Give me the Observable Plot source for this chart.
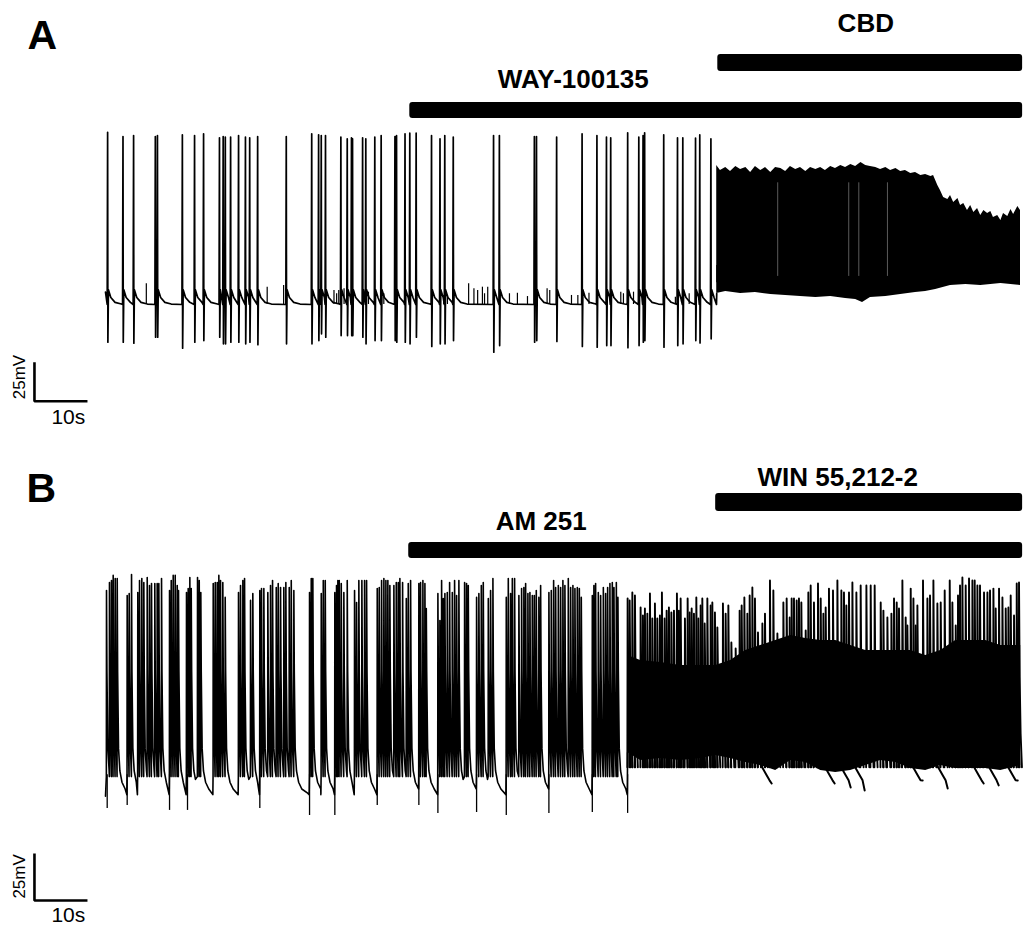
<!DOCTYPE html>
<html><head><meta charset="utf-8">
<script src="https://cdn.jsdelivr.net/npm/d3@7"></script>
<script src="https://cdn.jsdelivr.net/npm/@observablehq/plot@0.6"></script>
<style>
html,body{margin:0;padding:0;background:#fff;}
#chart svg{display:block;}
</style></head>
<body><div id="chart"></div>
<script>
// ---------------- DATA ----------------
const recordEnd = 173.0;              // s, end of both recordings
const scaleBar_s = 10, scaleBar_mV = 25;

// Panel A — drug applications
const drugA_name = ["WAY-100135", "CBD"];
const drugA_start = [57.4, 115.5];
// Panel A — isolated action potentials (time s, peak mV, undershoot mV)
const spikeA_t = [0.4,3.3,5.3,9.4,9.8,14.5,16.8,18.5,21.5,22.2,22.6,23.6,25.1,26.4,27.2,28.7,34.1,38.9,40.2,40.7,41.5,44.4,45.6,46.4,46.6,48.5,49.1,50.8,52.0,54.6,54.9,56.5,57.4,58.6,61.5,63.1,64.0,65.6,73.2,74.3,80.9,81.3,85.1,89.9,92.7,94.5,95.3,98.5,100.6,101.4,101.7,105.3,107.9,108.9,111.3,112.1,114.2];
const spikeA_peak = [50.4,47.7,48.3,47.7,48.3,48.8,48.3,49.4,46.9,47.7,47.3,47.3,48.3,47.3,46.9,47.7,47.7,49.4,48.8,48.3,48.3,47.3,46.2,46.9,46.2,46.9,46.2,47.3,48.3,47.7,48.3,49.4,49.8,49.8,48.3,46.2,48.3,47.3,48.3,48.3,47.7,47.7,47.3,49.4,48.3,47.3,46.9,50.1,47.3,48.3,50.1,48.8,46.9,46.9,46.7,48.8,46.2];
const spikeA_trough = [-84.2,-84.2,-84.8,-81.0,-81.0,-88.0,-84.2,-83.1,-81.0,-85.2,-85.2,-84.2,-84.2,-85.2,-84.2,-85.8,-85.2,-85.2,-83.1,-78.8,-81.0,-79.9,-79.9,-79.9,-79.9,-81.0,-85.2,-83.1,-83.1,-83.1,-84.2,-84.2,-85.2,-81.0,-86.9,-85.2,-85.2,-83.1,-90.6,-86.3,-84.2,-83.1,-83.7,-86.9,-87.4,-86.3,-86.3,-87.7,-86.3,-84.2,-83.1,-87.4,-86.3,-85.2,-83.1,-84.6,-82.0];
// Panel A — small synaptic events on the baseline
const epspA_t = [7.7,30.5,33.6,43.1,43.6,44.0,45.0,49.6,52.5,63.8,64.5,68.5,69.5,70.2,71.1,71.5,72.1,76.2,77.7,79.6,83.3,83.8,87.9,89.1,91.2,97.2,97.7,99.6,107.5,110.1];
const epspA_v = [-46.7,-48.9,-47.8,-51.0,-53.1,-51.0,-49.9,-52.1,-53.1,-54.2,-54.2,-46.7,-49.9,-51.0,-48.9,-53.1,-48.9,-53.1,-52.8,-54.9,-49.9,-51.0,-54.2,-54.2,-52.8,-52.1,-53.1,-52.1,-55.3,-53.1];
// Panel A — high-frequency firing after CBD: envelope of the trace
const denseA_t = [115.3,116.0,117.0,117.9,118.9,119.8,120.8,121.7,122.6,123.6,124.5,125.5,126.4,127.4,128.3,129.2,130.2,131.1,132.1,133.0,134.0,134.9,135.8,136.8,137.7,138.7,139.6,140.6,141.5,142.5,143.4,144.3,145.3,146.2,147.2,148.1,149.1,150.0,150.9,151.9,152.8,153.8,154.7,155.7,156.2,157.0,157.5,158.1,158.9,159.4,160.0,160.8,161.3,161.9,162.6,163.2,163.8,164.5,165.1,165.7,166.4,167.0,167.5,168.3,168.9,169.4,170.2,170.8,171.3,172.1,172.6];
const denseA_top = [29.1,25.9,27.8,25.3,28.5,26.5,27.8,24.6,28.5,25.9,27.8,24.6,27.8,27.2,25.3,28.5,26.5,27.8,25.3,27.8,26.5,27.8,25.9,28.5,27.2,29.1,27.8,29.7,28.5,31.0,29.1,28.5,27.8,26.5,27.8,25.9,27.2,25.3,25.9,24.0,24.6,22.7,23.3,22.1,22.7,16.3,13.1,8.6,7.3,9.9,5.4,7.9,3.5,4.7,0.3,3.5,-1.0,1.5,-3.0,0.3,-1.7,-0.4,-4.2,-3.0,-6.2,-1.7,-3.6,0.9,-2.3,2.8,0.3];
const denseA_lowT = [115.3,117.0,119.8,122.6,125.5,128.3,131.1,134.0,136.8,139.6,141.5,142.8,144.3,147.2,150.0,152.8,154.7,156.6,159.4,162.3,165.1,168.9,170.8,172.6];
const denseA_low = [-53.0,-51.7,-53.0,-52.3,-53.6,-54.2,-54.9,-55.5,-54.9,-56.2,-56.8,-58.7,-55.5,-54.9,-53.6,-52.3,-51.7,-50.4,-47.8,-47.2,-47.8,-46.5,-47.2,-47.8];
const denseA_gapT = [126.8,140.2,142.1,147.5];

// Panel B — drug applications
const drugB_name = ["AM 251", "WIN 55,212-2"];
const drugB_start = [57.2, 115.1];
// Panel B — spikes in the burst-firing period (time s, peak mV)
const spikeB_t = [0.19,0.75,1.13,1.45,1.83,2.21, 4.09,4.47,4.91, 6.09,6.42,6.85,7.23,7.87,8.30,8.68,9.30,9.75,10.06,10.57, 12.08,12.40,12.77,13.15,13.53,13.77, 15.28,15.60,15.91,16.17,17.36,17.68,17.98, 20.32,20.70,21.08,21.38,21.70,22.13,22.58, 25.09,25.47,25.91,26.23,27.36,27.79, 29.11,29.43,29.87,30.62,31.13,31.51,32.21,32.58,33.02,33.64,34.02,34.66,35.04,35.53, 38.49,38.81,39.11, 40.70,41.08,41.45, 43.26,43.58,43.83,44.09,44.47,44.96,45.60, 46.98,47.36,47.79,48.36,48.87,49.25, 51.26,51.64,52.08,52.51,52.89,53.26,53.64,54.40,54.85,55.23,55.53,56.04,56.74,57.11,57.55,59.11,59.43,59.87,60.25,60.51, 62.70,63.08,63.40,63.72,64.02,64.47,64.91,65.42,65.85,66.23,66.66,67.74,68.11,68.43, 70.00,70.43,70.89,71.26,72.21,72.64,73.08, 75.60,75.98,76.42,76.74,77.17,77.98,78.49,78.92,79.25,79.68,80.06,80.51,80.89,81.26,81.75,82.08, 83.64,84.09,84.53,84.91,85.42,85.85,86.28,86.66,87.30,87.74,88.17,88.55,89.00,89.38,89.75, 91.83,92.13,92.45,92.96,93.40,93.91,94.34,94.72,95.15,95.60,95.91,96.36,96.66];
const spikeB_peak = [48.0,52.2,53.3,56.0,54.4,54.4, 45.3,46.4,56.5, 46.9,53.3,54.4,52.2,54.9,50.6,51.7,51.7,51.7,51.7,54.4, 48.0,53.3,56.0,56.0,50.6,48.0, 46.9,49.0,54.9,49.0,54.9,53.3,46.9, 51.7,52.2,52.2,56.0,53.3,52.2,44.3, 46.9,50.6,53.3,54.4,42.7,46.4, 48.0,49.0,49.0,46.9,50.6,53.3,49.6,51.7,49.6,49.6,52.2,49.6,53.3,48.0, 46.9,54.4,54.4, 46.4,53.3,53.3, 46.9,50.6,53.3,53.3,51.7,46.9,53.3, 48.0,41.6,53.3,53.3,53.3,53.3, 49.0,49.6,53.3,54.4,53.3,53.3,50.6,50.6,52.2,52.2,54.4,52.2,43.7,51.7,53.3,51.7,52.2,53.3,51.7,38.4, 46.4,32.0,53.3,43.7,46.4,46.9,52.2,46.9,53.3,45.3,53.3,52.2,51.7,50.6, 44.3,46.4,50.6,52.2,43.7,48.0,54.4, 44.3,54.4,46.4,54.4,54.4,45.3,49.0,49.6,51.7,46.4,46.9,45.3,45.3,48.0,44.3,50.6, 46.9,48.0,53.3,49.6,50.6,49.6,53.3,50.6,54.4,49.6,50.6,49.0,49.6,49.0,44.3, 45.3,50.6,51.7,46.9,45.3,49.6,46.4,49.6,51.7,52.2,49.6,52.2,44.3];
// Panel B — silent intervals between bursts (start, end, s)
const gapB_start = [2.25,4.95,10.6,13.8,18.0,22.62,27.85,35.6,39.15,41.5,45.65,49.3,57.6,60.55,68.5,73.15,82.15,89.8,96.7];
const gapB_end   = [4.09,6.09,12.08,15.28,20.32,25.09,29.11,38.49,40.70,43.26,46.98,51.26,59.11,62.70,70.00,75.60,83.64,91.83,98.49];
// Panel B — first spikes of bursts that undershoot the baseline
const underB_t = [0.32,4.09,12.08,15.47,29.11,38.49,43.26,51.26,59.11,62.70,70.00,75.60,83.64,91.83,98.49];
const underB_v = [-68.0,-66.4,-69.0,-69.0,-68.0,-71.7,-71.7,-66.4,-66.4,-70.6,-70.1,-71.7,-70.6,-70.1,-70.6];
// Panel B — sustained firing from ~98 s: envelope of the dense band
const denseB_t = [98.49,100.94,104.72,108.49,112.26,115.09,117.92,120.75,123.58,126.42,129.25,132.08,134.91,137.74,140.57,143.40,146.23,149.06,151.89,154.72,157.55,160.38,163.21,166.04,168.87,172.64];
const denseB_top = [13.4,10.7,9.7,8.1,8.1,8.1,10.7,16.1,18.7,21.4,24.0,22.4,21.4,21.4,18.7,16.1,16.1,16.1,16.1,13.4,16.1,21.4,21.4,21.4,18.7,18.7];
const denseB_bottom = [-38.2,-42.4,-41.4,-42.4,-41.4,-39.8,-41.4,-43.5,-45.1,-47.8,-42.4,-43.5,-47.8,-48.8,-47.8,-45.1,-42.4,-43.5,-46.7,-47.8,-45.1,-46.7,-46.7,-46.7,-47.8,-45.1];
// Panel B — spike peaks rising above the dense band
const denseSpikeB_t = [98.49,98.87,99.38,99.87,100.94,101.38,101.75,102.21,102.70,103.15,103.64,104.09,104.58,104.96,105.47,105.85,106.28,106.74,107.23,107.79,108.17,108.49,109.30,109.81,110.19,110.57,111.00,111.45,111.83,112.26,112.58,113.02,113.53,114.15,114.47,114.96,115.42,116.47,116.98,117.49,118.06,118.87,119.62,120.00,120.51,121.08,121.51,122.02,122.51,123.08,123.91,124.40,125.34,125.98,126.74,127.87,128.49,129.06,129.43,129.87,130.38,130.81,131.26,132.08,132.58,133.02,133.64,134.40,134.91,135.42,135.85,136.47,137.23,138.06,138.81,139.30,139.75,140.25,140.89,141.64,142.45,143.53,144.34,145.09,146.23,146.74,147.49,148.25,148.74,149.25,149.68,150.32,150.94,151.26,151.89,152.40,152.83,153.15,154.21,155.04,155.53,156.17,156.92,157.55,158.30,159.25,159.75,160.38,160.81,161.19,161.64,162.26,162.89,163.53,163.96,164.47,164.96,165.72,166.36,166.85,167.49,167.92,168.55,169.19,169.81,170.32,170.75,171.38,171.89,172.32];
const denseSpikeB_peak = [43.7,42.7,46.9,45.3,38.9,34.7,38.4,35.7,46.4,33.1,41.1,33.1,34.7,46.9,33.1,37.3,38.9,36.3,37.3,46.4,37.3,43.7,33.1,43.7,36.3,38.4,35.7,44.3,33.1,40.0,43.7,30.4,43.7,40.0,41.6,36.3,28.3,41.1,35.7,40.0,20.3,17.1,37.3,40.0,44.3,35.7,45.3,49.6,43.7,25.6,30.4,35.7,53.3,48.0,25.1,41.6,43.7,33.6,43.7,43.7,42.7,43.7,41.6,26.7,46.9,50.6,41.6,51.7,43.7,35.7,38.9,49.0,48.0,53.3,48.0,46.9,40.0,46.9,52.2,46.9,50.6,50.6,50.6,50.6,41.6,37.3,33.6,35.7,43.7,41.6,38.4,53.3,33.6,29.4,49.0,43.7,29.4,40.0,53.3,43.7,45.3,53.3,41.1,41.6,48.0,53.3,41.6,29.4,45.3,50.6,54.9,50.6,54.4,53.3,53.3,50.6,50.6,46.9,46.9,48.0,49.0,38.4,49.0,44.3,38.4,38.9,45.3,34.7,51.7,52.2];
// Panel B — after-hyperpolarisation dips inside the dense period
const dipB_t = [125.66,137.55,140.57,143.21,154.15,158.87,165.66,168.49,172.08];
const dipB_v = [-54.7,-54.7,-56.8,-58.4,-53.1,-57.3,-54.7,-55.7,-53.1];

// ---------------- LAYOUT (annotation placement, not data) ----------------
const FONT = "'Liberation Sans', Arial, Helvetica, sans-serif";
const W = 1024, H = 463;
const xCfg = {domain: [0, 172.6], range: [105, 1020], axis: null};
const layoutA = {
  yRange: [304, 304 - 110 * 1.56],
  letter: {x: -14.7, y: 104.0},
  labels: [{x: 74.0, y: 78.5}, {x: 138.1, y: 114.4}],
  bars: [{y1: 59.2, y2: 69.5}, {y1: 89.4, y2: 100.3}],
  sb: {t: -13.4, v: -122.0, t10: -10.2, v10: -136.3, tmv: -15.1, vmv: -106.5}
};
const layoutB = {
  yRange: [330, 330 - 110 * 1.88],
  letter: {x: -14.9, y: 94.8},
  labels: [{x: 73.6, y: 79.9}, {x: 123.0, y: 103.8}],
  bars: [{y1: 65.0, y2: 73.5}, {y1: 90.0, y2: 99.6}],
  sb: {t: -13.4, v: -116.9, t10: -10.2, v10: -128.1, tmv: -15.1, vmv: -104.1}
};

function annotations(L, names, starts, letter) {
  const marks = [];
  marks.push(Plot.text([letter], {x: L.letter.x, y: L.letter.y, text: d => d, fontSize: 41, fontWeight: "bold", textAnchor: "start", lineAnchor: "bottom"}));
  names.forEach((n, i) => {
    marks.push(Plot.rect([{s: starts[i]}], {x1: "s", x2: recordEnd, y1: L.bars[i].y1, y2: L.bars[i].y2, fill: "black", rx: 3}));
    marks.push(Plot.text([n], {x: L.labels[i].x, y: L.labels[i].y, text: d => d, fontSize: 26, fontWeight: "bold", textAnchor: "start", lineAnchor: "bottom"}));
  });
  const sb = L.sb;
  marks.push(Plot.line([{t: sb.t, v: sb.v + scaleBar_mV}, {t: sb.t, v: sb.v}, {t: sb.t + scaleBar_s, v: sb.v}], {x: "t", y: "v", strokeWidth: 2.6, strokeLinejoin: "miter", strokeLinecap: "butt"}));
  marks.push(Plot.text([`${scaleBar_s}s`], {x: sb.t10, y: sb.v10, text: d => d, fontSize: 21, textAnchor: "start", lineAnchor: "bottom"}));
  marks.push(Plot.text([`${scaleBar_mV}mV`], {x: sb.tmv, y: sb.vmv, text: d => d, fontSize: 17, rotate: -90, textAnchor: "middle", lineAnchor: "bottom"}));
  return marks;
}

function makePlot(yRange, marks) {
  return Plot.plot({
    width: W, height: H, margin: 0,
    x: xCfg, y: {domain: [-60, 50], range: yRange, axis: null},
    style: {background: "white", fontFamily: FONT, color: "black", overflow: "visible"},
    marks
  });
}

// ---------------- PANEL A ----------------
const REST_A = -60, HUMP_A = -50.5;
const spikesA = spikeA_t.map((t, i) => ({t, peak: spikeA_peak[i], trough: spikeA_trough[i]}));
const traceA = [{t: 0, v: -52}];
spikesA.forEach((s, i) => {
  const next = i + 1 < spikesA.length ? spikesA[i + 1].t : denseA_t[0];
  const last = traceA[traceA.length - 1].t;
  if (s.t - 0.08 > last) traceA.push({t: s.t - 0.08, v: REST_A});
  traceA.push({t: s.t, v: s.peak});
  traceA.push({t: s.t + 0.05, v: s.trough});
  [[0.15, HUMP_A], [0.6, -55.5], [1.4, -58.6], [2.6, -59.7]].forEach(([dt, v]) => {
    if (s.t + dt < next - 0.1) traceA.push({t: s.t + dt, v});
  });
});
traceA.push({t: denseA_t[0] - 0.05, v: REST_A});
traceA.push({t: denseA_t[0], v: denseA_low[0]});

const epspA = epspA_t.map((t, i) => ({t, v: epspA_v[i]}));
const topA = denseA_t.map((t, i) => ({t, v: denseA_top[i]}));
const lowA = denseA_lowT.map((t, i) => ({t, v: denseA_low[i]}));

const plotA = makePlot(layoutA.yRange, [
  Plot.ruleX(epspA, {x: "t", y1: REST_A, y2: "v", strokeWidth: 1.2}),
  Plot.line(traceA, {x: "t", y: "v", strokeWidth: 1.7}),
  Plot.areaY(topA, {x: "t", y1: -46, y2: "v", fill: "black"}),
  Plot.areaY(lowA, {x: "t", y1: "v", y2: -35, fill: "black"}),
  Plot.ruleX(denseA_gapT, {x: d => d, y1: -42, y2: 18, stroke: "white", strokeOpacity: 0.45, strokeWidth: 0.8}),
  ...annotations(layoutA, drugA_name, drugA_start, "A")
]);

// ---------------- PANEL B ----------------
const spikesB = spikeB_t.slice(0, Math.min(spikeB_t.length, spikeB_peak.length)).map((t, i) => ({t, peak: spikeB_peak[i]}));
const traceB = [{t: 0, v: -61.5}];
spikesB.forEach((s, i) => {
  const nt = i + 1 < spikesB.length ? spikesB[i + 1].t : denseB_t[0];
  const gap = gapB_start.some(g => g >= s.t - 0.05 && g < nt);
  const push = (t, v) => { if (t > traceB[traceB.length - 1].t && t < nt - 0.03) traceB.push({t, v}); };
  push(s.t - 0.03, -51);
  traceB.push({t: s.t, v: s.peak});
  push(s.t + 0.08, 5); push(s.t + 0.25, -36); push(s.t + 0.5, -48);
  if (gap) { push(s.t + 0.9, -54); push(s.t + 1.5, -57.6); push(s.t + 2.6, -59.8); push(nt - 0.07, -60.6); }
  else { push(s.t + 0.8, -52.5); }
});
traceB.push({t: denseB_t[0], v: denseB_bottom[0]});

const underB = underB_t.map((t, i) => ({t, v: underB_v[i]}));
const bandB = denseB_t.map((t, i) => ({t, top: denseB_top[i], bottom: denseB_bottom[i]}));
const denseLines = [];
denseSpikeB_t.slice(0, Math.min(denseSpikeB_t.length, denseSpikeB_peak.length)).forEach((t, i) => {
  denseLines.push({t: t - 0.05, v: -46, k: i}, {t, v: denseSpikeB_peak[i], k: i}, {t: t + 0.12, v: 2, k: i}, {t: t + 0.3, v: -28, k: i}, {t: t + 0.55, v: -46, k: i});
});
const dipLines = [];
dipB_t.forEach((t, i) => {
  dipLines.push({t: t - 2.2, v: -44, k: i}, {t: t - 1.0, v: -50, k: i}, {t: t - 0.4, v: -53, k: i}, {t, v: dipB_v[i], k: i});
});

const plotB = makePlot(layoutB.yRange, [
  Plot.line(traceB, {x: "t", y: "v", strokeWidth: 1.6}),
  Plot.ruleX(underB, {x: "t", y1: -50, y2: "v", strokeWidth: 1.3}),
  Plot.areaY(bandB, {x: "t", y1: "bottom", y2: "top", fill: "black"}),
  Plot.line(denseLines, {x: "t", y: "v", z: "k", strokeWidth: 1.9}),
  Plot.line(dipLines, {x: "t", y: "v", z: "k", strokeWidth: 2}),
  ...annotations(layoutB, drugB_name, drugB_start, "B")
]);

const root = document.getElementById("chart");
root.appendChild(plotA);
root.appendChild(plotB);
</script>
</body></html>
